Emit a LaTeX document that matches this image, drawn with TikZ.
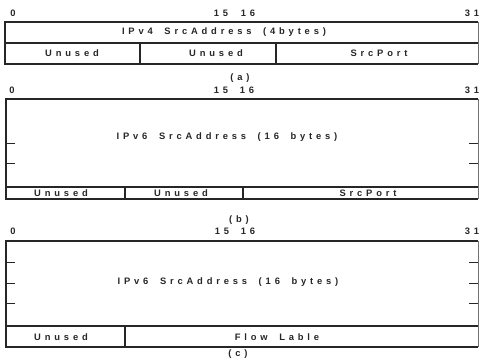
\documentclass[tikz,border=0pt]{standalone}
\usepackage{fontspec}
\setmainfont{Liberation Sans}
\newfontfamily\lbl{Liberation Sans}[LetterSpace=41,WordSpace=1.8]
\begin{document}
\begin{tikzpicture}[x=1bp,y=-1bp,
  frame/.style={line width=1.1pt,black!85},
  edge/.style={line width=0.6pt,black!55},
  tick/.style={line width=0.9pt,black!85},
  txt/.style={font=\lbl\bfseries\fontsize{9.4}{11}\selectfont,text=black!85,inner sep=0pt,anchor=center},
  bit/.style={font=\lbl\bfseries\fontsize{9.4}{11}\selectfont,text=black!85,inner sep=0pt,anchor=center}]
\useasboundingbox (0,0) rectangle (479,359);
% ---------- (a) ----------
\node[bit] (a0) at (13,13) {0};
\node[bit] (a15) at (221,13) {15};
\node[bit] (a16) at (248,13) {16};
\node[bit] (a31) at (472,13) {31};
\draw[frame] (478,22) -- (5,22) -- (5,64) -- (478,64);
\draw[frame] (5,43) -- (478,43);
\draw[edge] (478,22) -- (478,64);
\draw[frame] (140,43) -- (140,64);
\draw[frame] (276,43) -- (276,64);
\node[txt] (aaddr) at (224,32.5) {IPv4 SrcAddress (4bytes)};
\node[txt] (aun1) at (72,53.5) {Unused};
\node[txt] (aun2) at (216,53.5) {Unused};
\node[txt] (aport) at (379,53.5) {SrcPort};
\node[txt] (acap) at (240,78) {(a)};
% ---------- (b) ----------
\node[bit] (b0) at (12,90) {0};
\node[bit] (b15) at (221,90) {15};
\node[bit] (b16) at (247,90) {16};
\node[bit] (b31) at (472,90) {31};
\draw[frame] (478,99) -- (6,99) -- (6,199) -- (478,199);
\draw[frame] (6,187) -- (478,187);
\draw[edge] (478,99) -- (478,199);
\foreach \yy in {143,163} {
  \draw[tick] (6,\yy) -- (15,\yy);
  \draw[tick] (469,\yy) -- (478,\yy);
}
\draw[frame] (125,187) -- (125,199);
\draw[frame] (243,187) -- (243,199);
\node[txt] (baddr) at (227,137.5) {IPv6 SrcAddress (16 bytes)};
\node[txt] (bun1) at (61,193) {Unused};
\node[txt] (bun2) at (181,193) {Unused};
\node[txt] (bport) at (368,193) {SrcPort};
\node[txt] (bcap) at (239,220) {(b)};
% ---------- (c) ----------
\node[bit] (c0) at (13,231) {0};
\node[bit] (c15) at (222,231) {15};
\node[bit] (c16) at (248,231) {16};
\node[bit] (c31) at (472,231) {31};
\draw[frame] (478,241) -- (6,241) -- (6,347) -- (478,347);
\draw[frame] (6,326) -- (478,326);
\draw[edge] (478,241) -- (478,347);
\foreach \yy in {262,283,303} {
  \draw[tick] (6,\yy) -- (15,\yy);
  \draw[tick] (469,\yy) -- (478,\yy);
}
\draw[frame] (125,326) -- (125,347);
\node[txt] (caddr) at (228,282.5) {IPv6 SrcAddress (16 bytes)};
\node[txt] (cun1) at (61,337) {Unused};
\node[txt] (cflow) at (277,337) {Flow Lable};
\node[txt] (ccap) at (238,354) {(c)};
\end{tikzpicture}
\end{document}
